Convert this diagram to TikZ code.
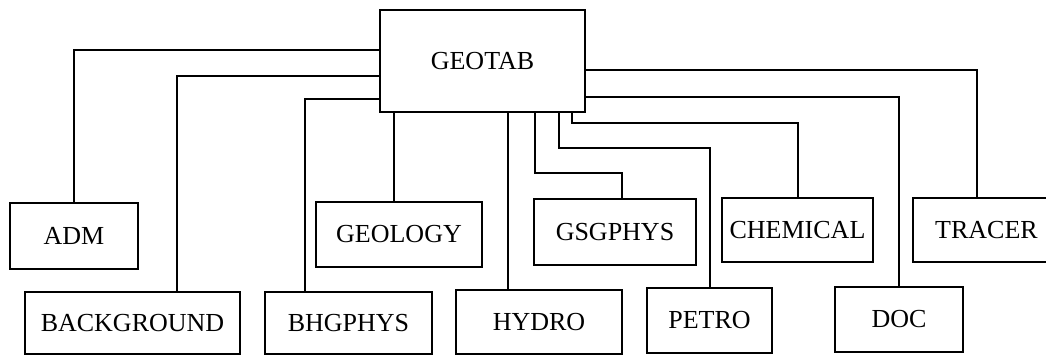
\documentclass[tikz,border=0pt]{standalone}
\usepackage{fontspec}
\setmainfont{Liberation Serif}
\usepackage{tikz}
\usetikzlibrary{positioning}
\usetikzlibrary{calc}
\tikzstyle{tablebox}=[draw, line width=1pt, inner sep=0pt, font=\fontsize{13}{15}\selectfont]
\tikzstyle{link}=[line width=1pt]

\begin{document}
\begin{tikzpicture}[x=0.5pt, y=-0.5pt]
      \useasboundingbox (0,0) rectangle (1046,356);

      \node[tablebox, minimum width=102.5pt, minimum height=51pt] (geotab) at (482.5,61) {GEOTAB};
      \node[tablebox, minimum width=64pt, minimum height=33pt] (adm) at (74,236) {ADM};
      \node[tablebox, minimum width=107.5pt, minimum height=31pt] (background) at (132.5,323) {BACKGROUND};
      \node[tablebox, minimum width=83.5pt, minimum height=31pt] (bhgphys) at (348.5,323) {BHGPHYS};
      \node[tablebox, minimum width=83pt, minimum height=32.5pt] (geology) at (399,234.5) {GEOLOGY};
      \node[tablebox, minimum width=83pt, minimum height=32pt] (hydro) at (539,322) {HYDRO};
      \node[tablebox, minimum width=81pt, minimum height=33pt] (gsgphys) at (615,232) {GSGPHYS};
      \node[tablebox, minimum width=62.5pt, minimum height=32.5pt] (petro) at (709.5,320.5) {PETRO};
      \node[tablebox, minimum width=75.5pt, minimum height=32pt] (chemical) at (797.5,230) {CHEMICAL};
      \node[tablebox, minimum width=64pt, minimum height=32.5pt] (doc) at (899,319.5) {DOC};
      \node[tablebox, minimum width=73.5pt, minimum height=32pt] (tracer) at (986.5,230) {TRACER};

      % left side
      \draw[link] (geotab.west |- 0,50) -| (adm.north);
      \draw[link] (geotab.west |- 0,76) -| (background.north -| 177,0);
      \draw[link] (geotab.west |- 0,99) -| (bhgphys.north -| 305,0);

      % bottom side
      \draw[link] (geotab.south -| 394,0) -- (geology.north -| 394,0);
      \draw[link] (geotab.south -| 508,0) -- (hydro.north -| 508,0);
      \draw[link] (geotab.south -| 535,0) |- (622,173) -- (gsgphys.north -| 622,0);
      \draw[link] (geotab.south -| 559,0) |- (710,148) -- (petro.north -| 710,0);
      \draw[link] (geotab.south -| 572,0) |- (798,123) -- (chemical.north -| 798,0);

      % right side
      \draw[link] (geotab.east |- 0,70) -| (tracer.north -| 977,0);
      \draw[link] (geotab.east |- 0,97) -| (doc.north);

    \end{tikzpicture}
\end{document}
